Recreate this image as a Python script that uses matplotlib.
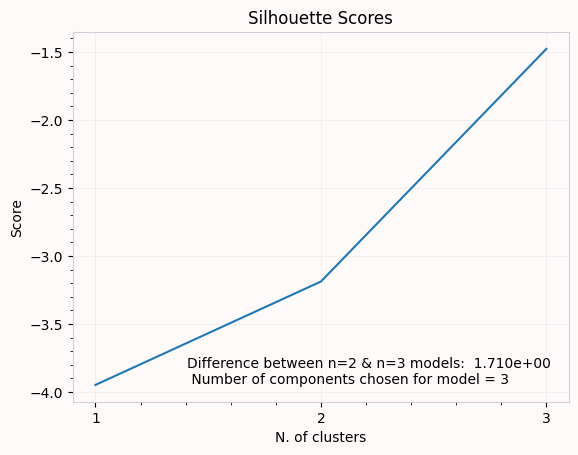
import matplotlib
matplotlib.use('Agg')
import matplotlib.pyplot as plt
from matplotlib.ticker import MultipleLocator

# cluster count vs score
n_clusters = [1, 2, 3]
scores = [-3.948, -3.188, -1.478]
diff_text = 'Difference between n=2 & n=3 models:  1.710e+00\n Number of components chosen for model = 3'

BG = '#fffafa'

fig, ax = plt.subplots(figsize=(6.4, 4.8), dpi=100)
fig.patch.set_facecolor(BG)
ax.set_facecolor(BG)

ax.plot(n_clusters, scores, color='#1f77b4', linewidth=1.5)

ax.set_title('Silhouette Scores')
ax.set_xlabel('N. of clusters')
ax.set_ylabel('Score')
ax.set_xticks(n_clusters)
ax.xaxis.set_minor_locator(MultipleLocator(0.2))
ax.yaxis.set_minor_locator(MultipleLocator(0.1))
ax.grid(True, color='#e8e8e8', linewidth=0.6, alpha=0.7)

for sp in ax.spines.values():
    sp.set_color('#d0d0d8')

ax.text(0.231, 0.04, diff_text, transform=ax.transAxes, fontsize=10,
        ha='left', va='bottom')

fig.savefig('out.png', dpi=100, bbox_inches='tight', facecolor=BG)
